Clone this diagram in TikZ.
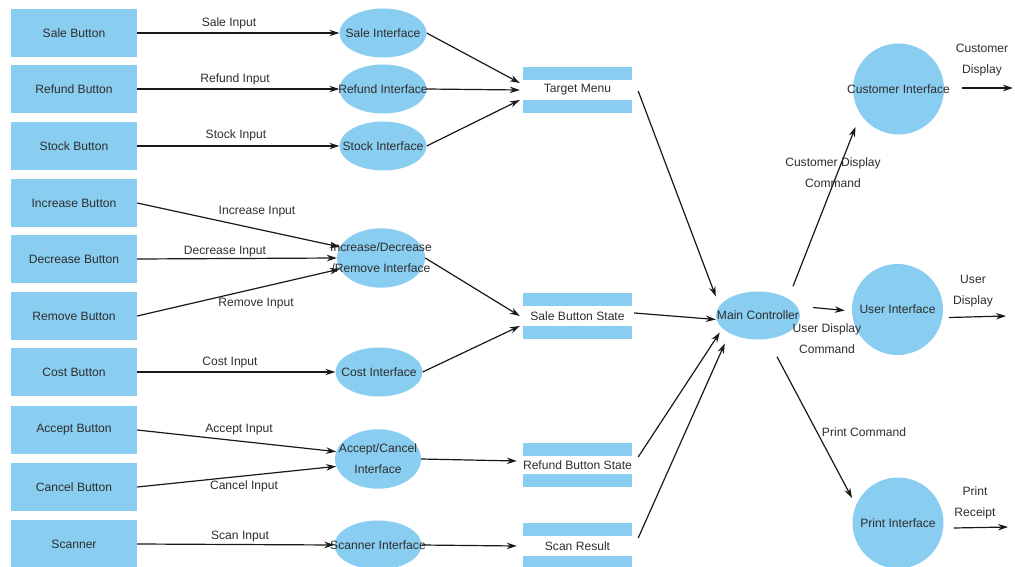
\documentclass[tikz,border=0pt]{standalone}
\usepackage{fontspec}
\setmainfont{Liberation Sans}
\usetikzlibrary{shapes.geometric,arrows.meta}
\definecolor{lb}{RGB}{137,206,241}
\definecolor{tx}{RGB}{45,45,45}
\newcommand\zw[1]{\makebox[0pt]{#1}}
\newcommand\twol[2]{\makebox[0pt]{\begin{tabular}{@{}c@{}}#1\\#2\end{tabular}}}
\begin{document}
\begin{tikzpicture}[x=1pt,y=-1pt,
  every node/.style={font=\fontsize{12.1}{21}\selectfont, text=tx},
  btn/.style={fill=lb, minimum width=126pt, minimum height=48pt, inner sep=0pt},
  proc/.style={ellipse, fill=lb, inner sep=0pt, minimum width=87pt, minimum height=49pt},
  big/.style={ellipse, fill=lb, inner sep=0pt, minimum width=91pt, minimum height=91pt},
  store/.style={rectangle, inner sep=0pt, minimum width=109pt, minimum height=46pt,
    path picture={\fill[lb] (path picture bounding box.north west) rectangle ([yshift=-13pt]path picture bounding box.north east);
                  \fill[lb] (path picture bounding box.south west) rectangle ([yshift=13pt]path picture bounding box.south east);}},
  lbl/.style={inner sep=0pt, align=center},
  flow/.style={draw=black!90, line width=1.2pt, -{Stealth[length=10pt,width=6.5pt]}}
]
\useasboundingbox (0,0) rectangle (1015,567);

% buttons
\node[btn] (sb)  at (74,33)  {Sale Button};
\node[btn] (rb)  at (74,89)  {Refund Button};
\node[btn] (stb) at (74,146) {Stock Button};
\node[btn] (ib)  at (74,203) {Increase Button};
\node[btn] (db)  at (74,259) {Decrease Button};
\node[btn] (rmb) at (74,316) {Remove Button};
\node[btn] (cb)  at (74,372) {Cost Button};
\node[btn] (ab)  at (74,430) {Accept Button};
\node[btn] (cab) at (74,487) {Cancel Button};
\node[btn] (scb) at (74,544) {Scanner};

% interfaces
\node[proc] (si)  at (383,33)  {\zw{Sale Interface}};
\node[proc] (ri)  at (383,89)  {\zw{Refund Interface}};
\node[proc] (sti) at (383,146) {\zw{Stock Interface}};
\node[proc, minimum width=88pt, minimum height=50pt] (idr) at (381,258) {\twol{Increase/Decrease}{/Remove Interface}};
\node[proc] (ci)  at (379,372) {\zw{Cost Interface}};
\node[proc, minimum width=86pt, minimum height=47pt] (aci) at (378,459) {\twol{Accept/Cancel}{Interface}};
\node[proc] (sci) at (378,545) {\zw{Scanner Interface}};

% stores
\node[store] (tm)  at (577.5,90)  {Target Menu};
\node[store] (sbs) at (577.5,316) {Sale Button State};
\node[store, minimum height=44pt] (rbs) at (577.5,465) {Refund Button State};
\node[store] (sr)  at (577.5,546) {Scan Result};

% main controller and outputs
\node[proc, minimum width=84pt, minimum height=48pt] (mc) at (758,315.5) {\zw{Main Controller}};
\node[big] (cui) at (898.5,89)  {\zw{Customer Interface}};
\node[big] (ui)  at (897.5,309.5) {\zw{User Interface}};
\node[big] (pi)  at (898,523) {\zw{Print Interface}};

\coordinate (cdo) at (1013,88);
\coordinate (udo) at (1006,316);
\coordinate (pro) at (1008,527);

% input flows
\draw[flow] (sb.east) -- (si.west);
\draw[flow] (rb.east) -- (ri.west);
\draw[flow] (stb.east) -- (sti.west);
\draw[flow] (ib.east) -- (idr.165);
\draw[flow] (db.east) -- (idr.west);
\draw[flow] (rmb.east) -- (idr.195);
\draw[flow] (cb.east) -- (ci.west);
\draw[flow] (ab.east) -- (aci.170);
\draw[flow] (cab.east) -- (aci.190);
\draw[flow] (scb.east) -- (sci.west);

% interface to store
\draw[flow] (si.east) -- ([xshift=-3pt,yshift=7pt]tm.west);
\draw[flow] (ri.east) -- ([xshift=-3pt]tm.west);
\draw[flow] (sti.east) -- ([xshift=-3pt,yshift=-10pt]tm.west);
\draw[flow] (idr.east) -- ([xshift=-3pt]sbs.west);
\draw[flow] (ci.east) -- ([xshift=-3pt,yshift=-10pt]sbs.west);
\draw[flow] (aci.east) -- ([xshift=-6pt,yshift=4pt]rbs.west);
\draw[flow] (sci.east) -- ([xshift=-6pt]sr.west);

% store to main controller
\draw[flow] ([xshift=6pt,yshift=-1pt]tm.east) -- ([yshift=19pt]mc.west);
\draw[flow] ([xshift=2pt,yshift=3pt]sbs.east) -- ([yshift=-4pt]mc.west);
\draw[flow] ([xshift=6pt,yshift=8pt]rbs.east) -- ([xshift=4pt,yshift=-17pt]mc.west);
\draw[flow] ([xshift=6pt,yshift=8pt]sr.east) -- ([xshift=9pt,yshift=-28pt]mc.west);

% controller outputs
\draw[flow] ([xshift=35pt,yshift=5pt]mc.north) -- ([xshift=-43pt,yshift=-38pt]cui.center);
\draw[flow] ([xshift=13pt,yshift=8pt]mc.east) -- ([xshift=-7pt,yshift=-1pt]ui.west);
\draw[flow] ([xshift=19pt,yshift=-17pt]mc.south) -- ([xshift=-46pt,yshift=25pt]pi.center);

\draw[flow] ([xshift=18pt,yshift=1pt]cui.east) -- (cdo);
\draw[flow] ([xshift=6pt,yshift=-8pt]ui.east) -- (udo);
\draw[flow] ([xshift=10pt,yshift=-5pt]pi.east) -- (pro);

% labels
\node[lbl] (l1)  at (229,23)  {Sale Input};
\node[lbl] (l2)  at (235,79)  {Refund Input};
\node[lbl] (l3)  at (236,135) {Stock Input};
\node[lbl] (l4)  at (257,212) {Increase Input};
\node[lbl] (l5)  at (225,252) {Decrease Input};
\node[lbl] (l6)  at (256,304) {Remove Input};
\node[lbl] (l7)  at (230,363) {Cost Input};
\node[lbl] (l8)  at (239,430) {Accept Input};
\node[lbl] (l9)  at (244,486) {Cancel Input};
\node[lbl] (l10) at (240,537) {Scan Input};
\node[lbl] (l11) at (833,173) {Customer Display\\Command};
\node[lbl] (l12) at (827,339) {User Display\\Command};
\node[lbl] (l13) at (864,432) {Print Command};
\node[lbl] (l14) at (982,60)  {Customer\\Display};
\node[lbl] (l15) at (973,291) {User\\Display};
\node[lbl] (l16) at (975,503) {Print\\Receipt};
\end{tikzpicture}
\end{document}
